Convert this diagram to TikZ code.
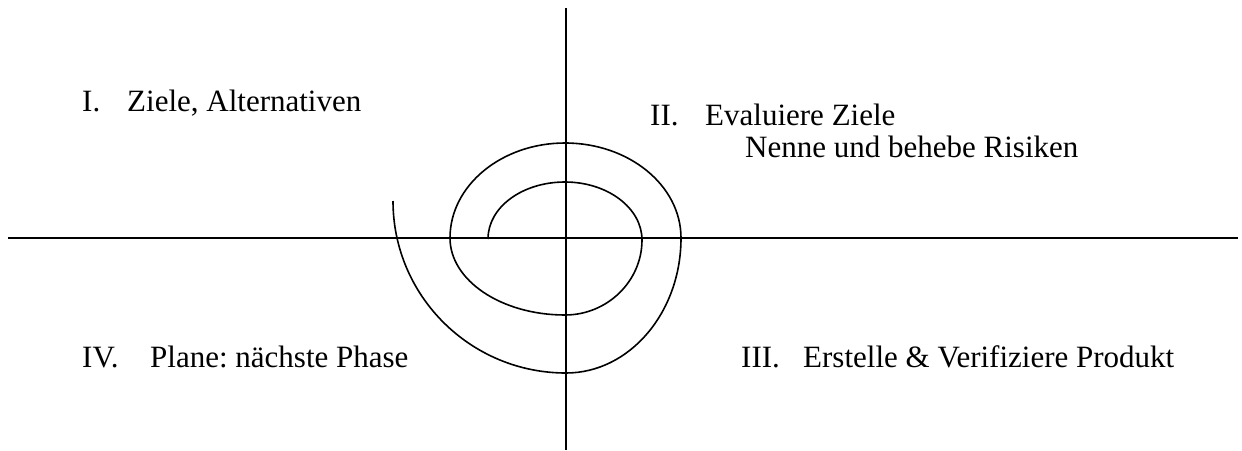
\documentclass[tikz,border=0pt]{standalone}
\usepackage{fontspec}
\setmainfont{Liberation Serif}
\begin{document}
\begin{tikzpicture}[x=1pt,y=-1pt,
  axis/.style={line width=1.6pt},
  spiralline/.style={line width=1.6pt},
  lbl/.style={anchor=base west,inner sep=0pt,font=\fontsize{31}{36}\selectfont\frenchspacing}]
\useasboundingbox (0,0) rectangle (1242,450);
% axes
\coordinate (top) at (566,8);
\coordinate (bot) at (566,450);
\coordinate (left) at (8,238);
\coordinate (right) at (1238,238);
\draw[axis] (top) -- (bot);
\draw[axis] (left) -- (right);
% spiral
\coordinate (s0) at (488,239);
\coordinate (s1) at (565,182);
\coordinate (s2) at (642,240);
\coordinate (s3) at (565,315);
\coordinate (s4) at (450,238);
\coordinate (s5) at (565,143);
\coordinate (s6) at (681,238);
\coordinate (s7) at (566,373);
\coordinate (s8) at (393,201);
\draw[spiralline] (s0) .. controls (488,207) and (522.5,182) .. (s1)
  .. controls (607.5,182) and (642,208) .. (s2)
  .. controls (642,281) and (607.5,315) .. (s3)
  .. controls (501.5,315) and (450,280.5) .. (s4)
  .. controls (450,185.5) and (501.5,143) .. (s5)
  .. controls (629,143) and (681,185.5) .. (s6)
  .. controls (681,312.5) and (629.5,373) .. (s7)
  .. controls (470.5,373) and (393,296) .. (s8);
% labels
\node[lbl] (n1) at (82,111) {I.};
\node[lbl] (t1) at (127,111) {Ziele, Alternativen};
\node[lbl] (n2) at (650,125) {II.};
\node[lbl] (t2) at (705,125) {Evaluiere Ziele};
\node[lbl] (t2b) at (745,157) {Nenne und behebe Risiken};
\node[lbl] (n4) at (82,367) {IV.};
\node[lbl] (t4) at (150,367) {Plane: nächste Phase};
\node[lbl] (n3) at (741,367) {III.};
\node[lbl] (t3) at (803,367) {Erstelle \& Verifiziere Produkt};
\end{tikzpicture}
\end{document}
